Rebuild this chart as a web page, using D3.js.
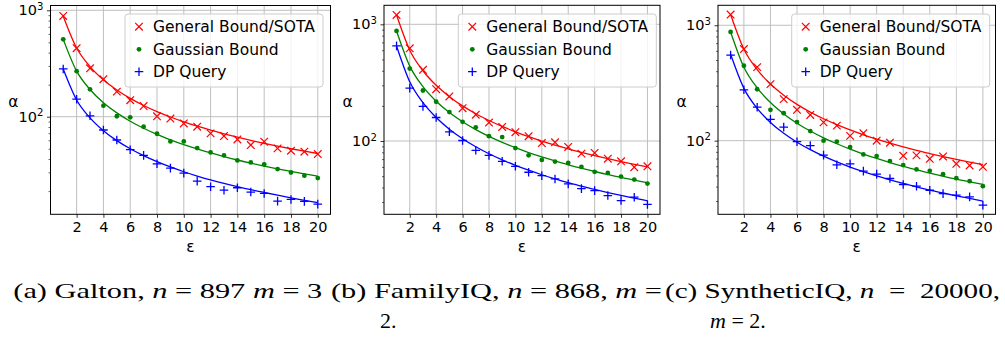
<!DOCTYPE html>
<html>
<head>
<meta charset="utf-8">
<script src="https://cdn.jsdelivr.net/npm/d3@7"></script>
<style>
  html, body { margin: 0; padding: 0; background: #fff; }
  svg { display: block; }
</style>
</head>
<body>
<svg id="chart" width="1005" height="338"></svg>
<script>
// ---------------- DATA ----------------
const epsilon = [1,2,3,4,5,6,7,8,9,10,11,12,13,14,15,16,17,18,19,20];
const xTickValues = [2,4,6,8,10,12,14,16,18,20];
const yTickValues = [100, 1000];
const seriesNames = ["General Bound/SOTA", "Gaussian Bound", "DP Query"];
const xLabel = "ε";
const yLabel = "α";

// (a) Galton
const galtonGeneral  = [885,440,285,225,172,143,126,101,96,86.5,80.5,69.7,65.8,61.2,54.2,58.2,50.4,47.9,46.9,44.6];
const galtonGaussian = [533,268,181,127,101,98.6,80.5,69.2,58.6,58.6,50.7,46.2,43.3,38.8,37.2,35.7,32.2,29.9,27.9,26.5];
const galtonDP       = [281,146,102,75,60.4,49,43.3,36.1,32.9,29.5,24.8,22,20.4,21.5,19.6,19,16.1,16.7,16,15.1];
const galtonGeneralFit  = [880,442,296,222,178,148.5,127.5,111.7,99.4,89.6,81.5,74.8,69.1,64.2,59.9,56.2,52.9,50,47.4,45.1];
const galtonGaussianFit = [533,268,180,135,108.6,90.7,77.9,68.2,60.7,54.7,49.8,45.7,42.2,39.2,36.6,34.4,32.4,30.6,29.0,27.6];
const galtonDPFit       = [281,143.7,97.5,73.9,59.6,50,43.1,37.8,33.7,30.4,27.7,25.5,23.6,22,20.6,19.4,18.3,17.3,16.4,15.6];

// (b) FamilyIQ
const familyGeneral  = [1202,623,408,278,241,191,168,144,132,119,110,96,97.5,89,78,79,70.6,67,59.6,60.7];
const familyGaussian = [877,418,271,217,177,146,131,110,108,87,75.4,68.8,66.6,64.9,60,54.4,53.3,49.6,46.7,43.2];
const familyDP       = [653,284,198,159,120,101,83.3,75.4,67,60.7,54,50.5,47.3,42.9,39.1,37.6,34.1,30.9,33,28.6];
const familyGeneralFit  = [1200,600,400,300,240,200,171.4,150,133.3,120,109.1,100,92.3,85.7,80,75,70.6,66.7,63.2,60];
const familyGaussianFit = [877,438.5,292.3,219.3,175.4,146.2,125.3,109.6,97.4,87.7,79.7,73.1,67.5,62.6,58.5,54.8,51.6,48.7,46.2,43.9];
const familyDPFit       = [653,322,213,159,126.4,104.7,89.3,77.8,69,61.9,56.2,51.4,47.4,44,41,38.5,36.2,34.2,32.4,30.7];

// (c) SyntheticIQ
const syntheticGeneral  = [1238,622,434,309,229,185,167,144,135,110,116,100,96,74,74.6,69.7,73,63,61,59.4];
const syntheticGaussian = [875,446,279,185,173,145,121,100,98,88,76,73.6,66.6,61.4,56.3,54.8,51.3,47.3,44.6,40.3];
const syntheticDP       = [552,276,195,153,131,98,90.5,75,61.8,63,54.5,51.3,47,41.7,40.3,37.2,34.8,33.7,32.6,27.6];
const syntheticGeneralFit  = [1238,619,412.7,309.5,247.6,206.3,176.9,154.8,137.6,123.8,112.5,103.2,95.2,88.4,82.5,77.4,72.8,68.8,65.2,61.9];
const syntheticGaussianFit = [875,433,287,214,170.6,141.7,121.2,105.9,94,84.4,76.6,70.1,64.6,59.9,55.9,52.3,49.2,46.4,44,41.8];
const syntheticDPFit       = [560,284,190.6,143.9,115.8,97,83.6,73.4,65.5,59.1,53.9,49.5,45.8,42.6,39.8,37.3,35.2,33.3,31.6,30];

// ---------------- LAYOUT / STYLE ----------------
const colors = ["#ff0000", "#008000", "#0000ff"];
const markerKinds = ["x", "dot", "plus"];
const FONT = "'DejaVu Sans', sans-serif";
const FS = 14.5;
const LFS = 15.5;

const panels = [
  { box: {l: 50.5, r: 330.5, t: 5.5, b: 214.3}, yLog: [1.083, 3.045], legendX: 125, ylabX: 13.3,
    data: [galtonGeneral, galtonGaussian, galtonDP], fits: [galtonGeneralFit, galtonGaussianFit, galtonDPFit] },
  { box: {l: 384, r: 660, t: 5.3, b: 214.3}, yLog: [1.372, 3.163], legendX: 458.3, ylabX: 347.7,
    data: [familyGeneral, familyGaussian, familyDP], fits: [familyGeneralFit, familyGaussianFit, familyDPFit] },
  { box: {l: 718, r: 995.5, t: 5.3, b: 214.3}, yLog: [1.362, 3.173], legendX: 791.7, ylabX: 681.7,
    data: [syntheticGeneral, syntheticGaussian, syntheticDP], fits: [syntheticGeneralFit, syntheticGaussianFit, syntheticDPFit] }
];

const svg = d3.select("#chart");

function drawMarker(g, kind, color, x, y) {
  if (kind === "x") {
    const s = 3.8;
    g.append("path").attr("d", `M${x-s},${y-s}L${x+s},${y+s}M${x-s},${y+s}L${x+s},${y-s}`)
      .attr("stroke", color).attr("stroke-width", 1.2).attr("fill", "none");
  } else if (kind === "dot") {
    g.append("circle").attr("cx", x).attr("cy", y).attr("r", 2.4).attr("fill", color);
  } else {
    const s = 4.3;
    g.append("path").attr("d", `M${x-s},${y}H${x+s}M${x},${y-s}V${y+s}`)
      .attr("stroke", color).attr("stroke-width", 1.3).attr("fill", "none");
  }
}

panels.forEach(p => {
  const b = p.box;
  const x = d3.scaleLinear().domain([0.05, 20.95]).range([b.l, b.r]);
  const y = d3.scaleLog().domain([Math.pow(10, p.yLog[0]), Math.pow(10, p.yLog[1])]).range([b.b, b.t]);
  const g = svg.append("g");

  // grid
  const grid = g.append("g").attr("stroke", "#b0b0b0").attr("stroke-width", 1).attr("opacity", 0.8);
  xTickValues.forEach(v => grid.append("line").attr("x1", x(v)).attr("x2", x(v)).attr("y1", b.t).attr("y2", b.b));
  yTickValues.forEach(v => grid.append("line").attr("x1", b.l).attr("x2", b.r).attr("y1", y(v)).attr("y2", y(v)));

  // x axis
  const xAxis = d3.axisBottom(x).tickValues(xTickValues).tickSize(3.5).tickPadding(3.5).tickSizeOuter(0);
  const xg = g.append("g").attr("transform", `translate(0,${b.b})`).call(xAxis);
  xg.select(".domain").remove();
  xg.selectAll("text").attr("font-family", FONT).attr("font-size", FS).attr("fill", "#000");
  xg.selectAll("line").attr("stroke", "#000").attr("stroke-width", 0.8);

  // y axis major
  const yAxis = d3.axisLeft(y).tickValues(yTickValues).tickSize(3.5).tickPadding(3.5).tickFormat("");
  const yg = g.append("g").attr("transform", `translate(${b.l},0)`).call(yAxis);
  yg.select(".domain").remove();
  yg.selectAll("line").attr("stroke", "#000").attr("stroke-width", 0.8);
  yg.selectAll(".tick").each(function(d) {
    const t = d3.select(this).append("text").attr("x", -7).attr("dy", "0.32em")
      .attr("text-anchor", "end").attr("font-family", FONT).attr("font-size", FS).attr("fill", "#000");
    t.append("tspan").text("10");
    t.append("tspan").attr("font-size", FS * 0.7).attr("dy", "-0.55em").text(String(Math.round(Math.log10(d))));
  });
  // minor ticks
  const [lo, hi] = y.domain();
  const minor = [];
  for (let k = Math.floor(Math.log10(lo)); k <= Math.ceil(Math.log10(hi)); k++) {
    for (let m = 2; m <= 9; m++) { const v = m * Math.pow(10, k); if (v >= lo && v <= hi) minor.push(v); }
  }
  const myg = g.append("g").attr("transform", `translate(${b.l},0)`)
    .call(d3.axisLeft(y).tickValues(minor).tickSize(2).tickFormat(""));
  myg.select(".domain").remove();
  myg.selectAll("line").attr("stroke", "#000").attr("stroke-width", 0.6);

  // fit lines
  const line = d3.line().x((d, i) => x(epsilon[i])).y(d => y(d)).curve(d3.curveMonotoneX);
  p.fits.forEach((f, si) => {
    g.append("path").datum(f).attr("d", line).attr("fill", "none")
      .attr("stroke", colors[si]).attr("stroke-width", 1.3);
  });
  // markers
  p.data.forEach((s, si) => {
    const mg = g.append("g");
    s.forEach((v, i) => drawMarker(mg, markerKinds[si], colors[si], x(epsilon[i]), y(v)));
  });

  // spines
  g.append("rect").attr("x", b.l).attr("y", b.t).attr("width", b.r - b.l).attr("height", b.b - b.t)
    .attr("fill", "none").attr("stroke", "#000").attr("stroke-width", 1);

  // legend
  const lg = g.append("g");
  lg.append("rect").attr("x", p.legendX).attr("y", 14).attr("width", 198).attr("height", 73)
    .attr("rx", 3).attr("fill", "#fff").attr("fill-opacity", 0.8).attr("stroke", "#cccccc").attr("stroke-width", 1);
  const rowY = [26.7, 49.3, 71.7];
  seriesNames.forEach((name, si) => {
    drawMarker(lg, markerKinds[si], colors[si], p.legendX + 14, rowY[si]);
    lg.append("text").attr("x", p.legendX + 28).attr("y", rowY[si]).attr("dy", "0.36em")
      .attr("font-family", FONT).attr("font-size", LFS).attr("fill", "#000").text(name);
  });

  // axis labels
  g.append("text").attr("x", (b.l + b.r) / 2).attr("y", 247).attr("dy", "0.35em").attr("text-anchor", "middle")
    .attr("font-family", FONT).attr("font-size", LFS).text(xLabel);
  g.append("text").attr("x", p.ylabX).attr("y", 101.7).attr("dy", "0.35em").attr("text-anchor", "middle")
    .attr("font-family", FONT).attr("font-size", LFS).text(yLabel);
});

// captions
const SERIF = "'Liberation Serif', 'DejaVu Serif', serif";
const captions = [
  { x: 13.3, y: 298.3, len: 309, parts: [["(a) Galton, ", false], ["n", true], [" = 897 ", false], ["m", true], [" = 3", false]] },
  { x: 331, y: 298.3, len: 331, parts: [["(b) FamilyIQ, ", false], ["n", true], [" = 868, ", false], ["m", true], [" =", false]] },
  { x: 380, y: 328.3, len: null, parts: [["2.", false]] },
  { x: 665, y: 298.3, len: 335, parts: [["(c) SyntheticIQ, ", false], ["n", true], ["  =  20000,", false]] },
  { x: 710, y: 328.3, len: null, parts: [["m", true], [" = 2.", false]] }
];
captions.forEach(c => {
  const t = svg.append("text").attr("x", c.x).attr("y", c.y).attr("font-family", SERIF).attr("font-size", 22)
    .attr("fill", "#000").style("white-space", "pre");
  if (c.len) t.attr("textLength", c.len).attr("lengthAdjust", "spacingAndGlyphs");
  c.parts.forEach(([s, it]) => t.append("tspan").attr("font-style", it ? "italic" : "normal").text(s));
});
</script>
</body>
</html>
